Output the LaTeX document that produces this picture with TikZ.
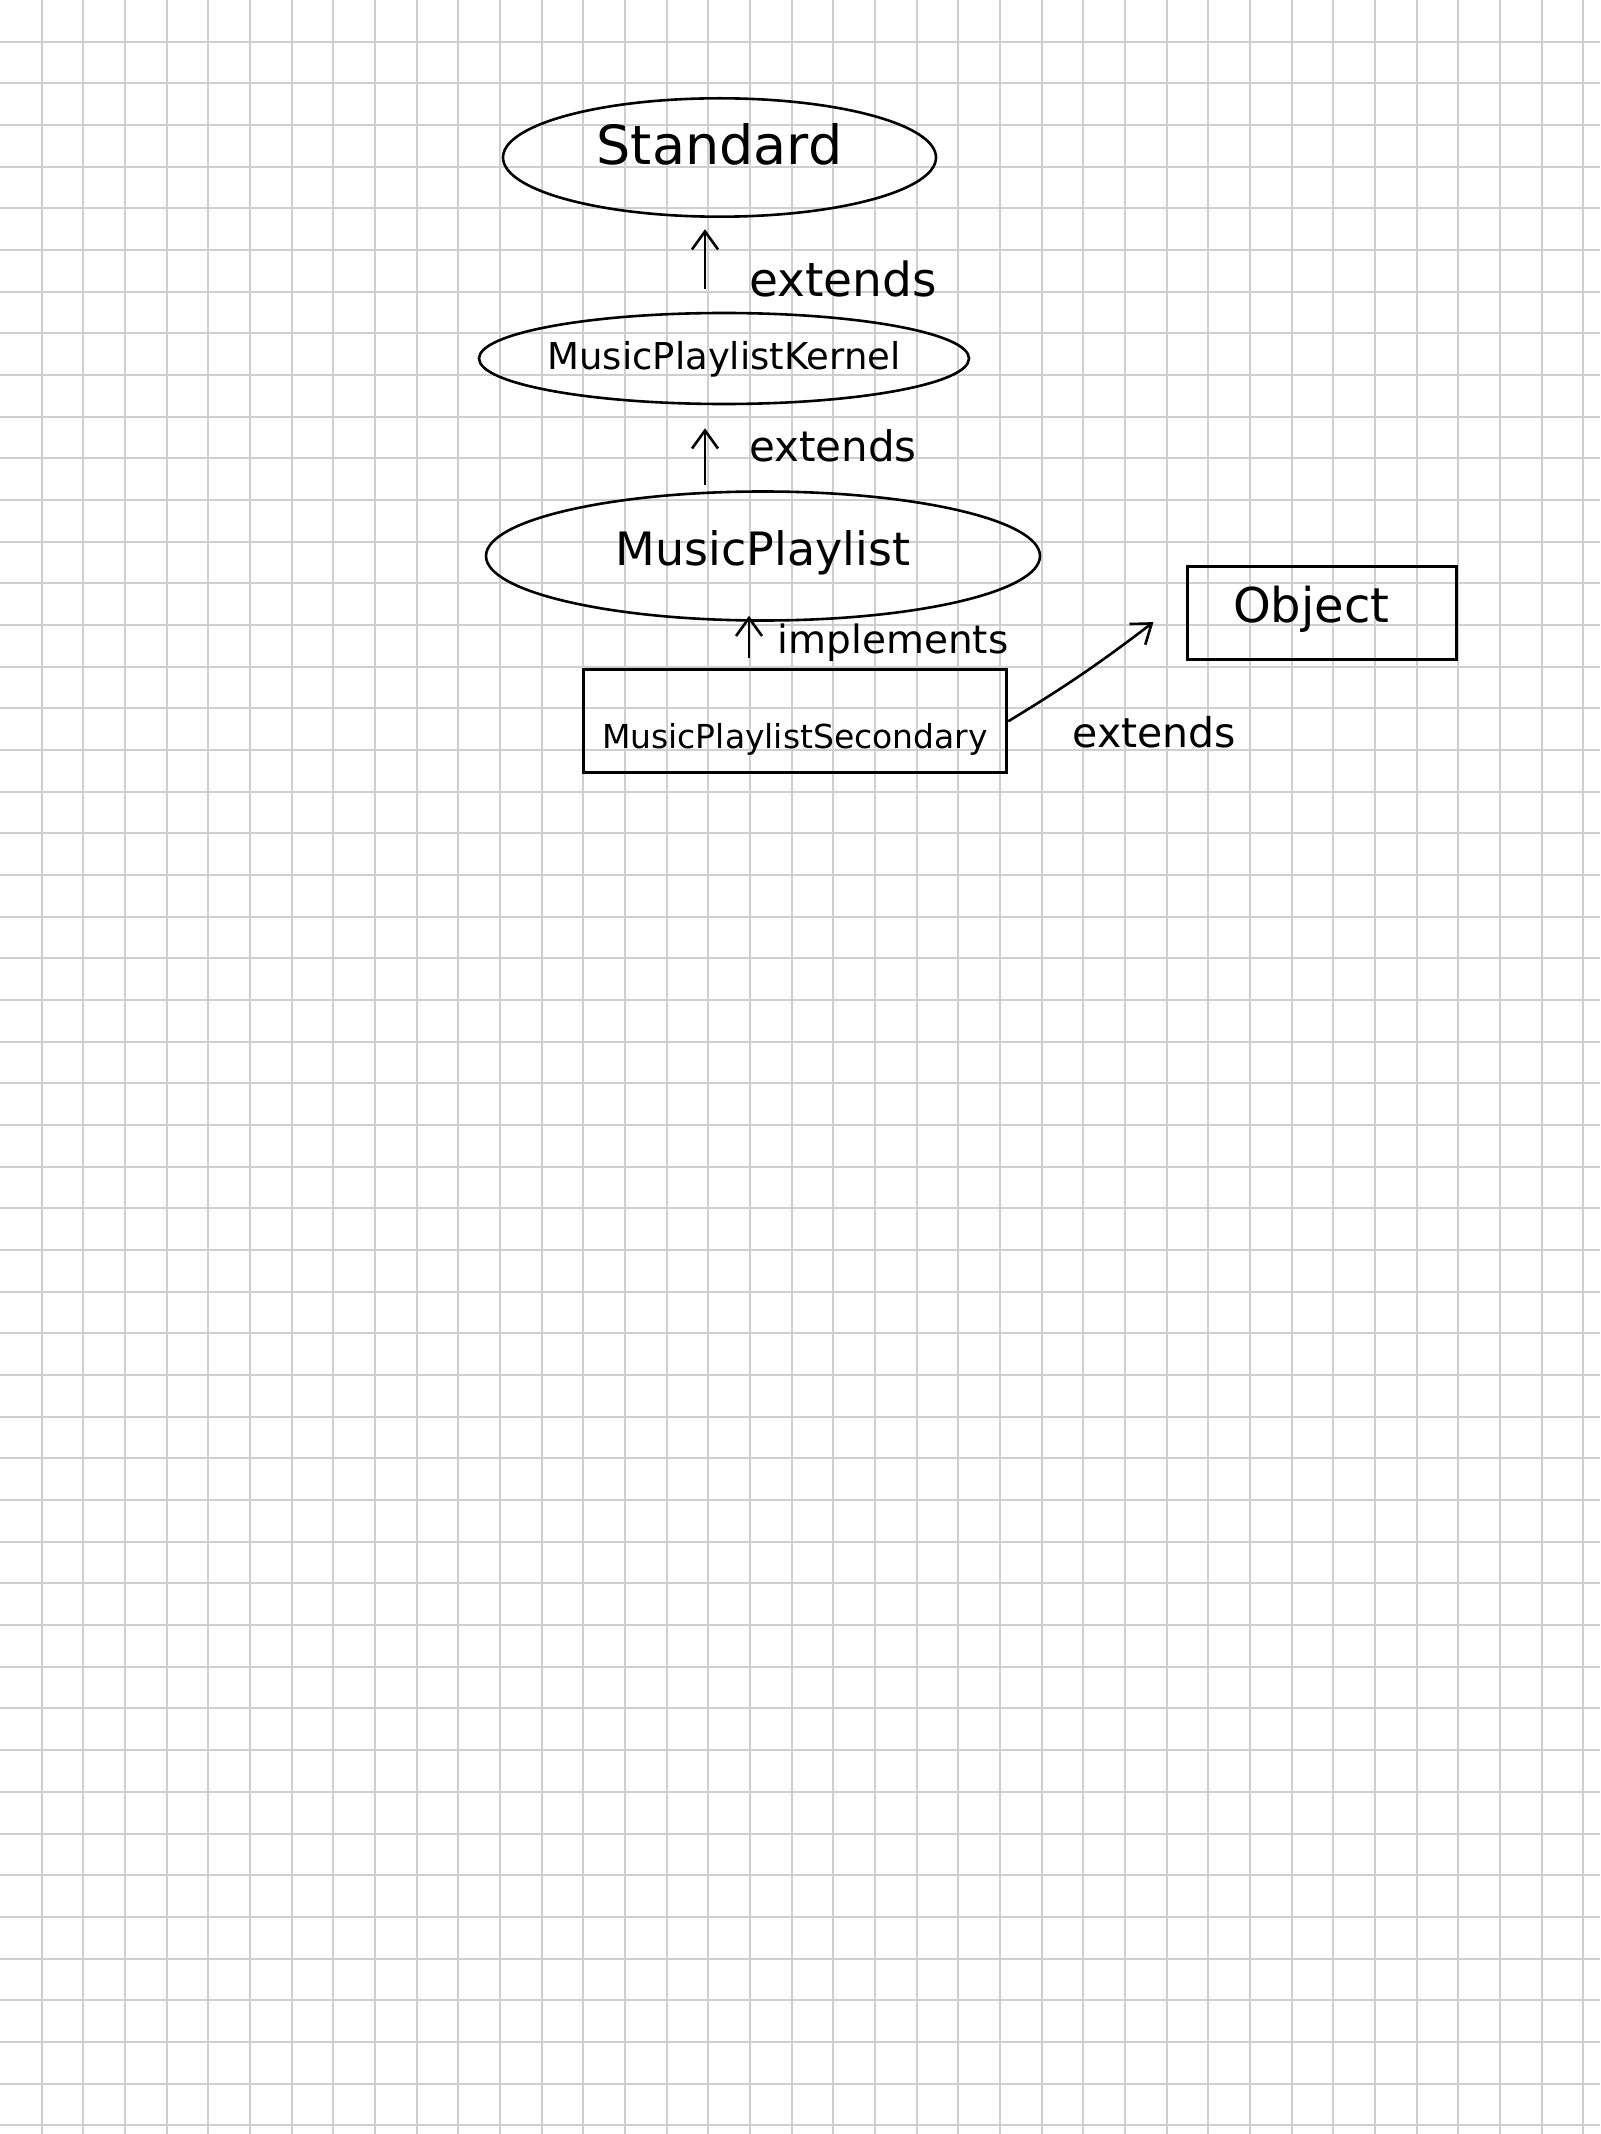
\documentclass[tikz,border=0pt]{standalone}
\usepackage{fontspec}
\setmainfont{DejaVu Sans}
\usetikzlibrary{arrows.meta,shapes.geometric}

\begin{document}
\begin{tikzpicture}[x=0.5pt, y=-0.5pt, >={Straight Barb[length=9pt,width=13pt]}]
  \tikzset{hand/.style={font=\fontsize{#1}{#1}\selectfont}}
  \tikzstyle{gridline} = [line width=1pt, color=black!19];
  \tikzstyle{classEllipse} = [draw, line width=1.3pt, ellipse, inner sep=0pt, inner xsep=-6pt];
  \tikzstyle{classBox} = [draw, line width=1.5pt, rectangle, inner sep=0pt];
  \tikzstyle{relEdge} = [black, line width=1.3pt, ->];
  \tikzstyle{relLabel} = [inner sep=0pt];

  % squared paper
  \useasboundingbox (0,0) rectangle (1600,2134);
  \fill[white] (0,0) rectangle (1600,2134);
  \foreach \i in {1,...,38} \draw[gridline] (\i*41.67,0) -- (\i*41.67,2134);
  \foreach \j in {1,...,51} \draw[gridline] (0,\j*41.67) -- (1600,\j*41.67);

  \node[classEllipse, minimum width=216.5pt, minimum height=59.2pt, hand=27, text height=10pt, text depth=2.5pt]   (std)  at (719.5,157.5)  {Standard};
  \node[classEllipse, minimum width=245pt,   minimum height=45.5pt, hand=18.5, text height=13pt, text depth=1.5pt] (kern) at (724,358.5)    {MusicPlaylistKernel};
  \node[classEllipse, minimum width=277pt,   minimum height=64.5pt, hand=23, text height=11pt, text depth=2pt]     (mpl)  at (763,556)      {MusicPlaylist};
  \node[classBox, minimum width=211.75pt, minimum height=51.35pt, hand=16.5, text height=27pt, text depth=0pt]     (mps)  at (795,721.3)    {MusicPlaylistSecondary};
  \node[classBox, minimum width=134.35pt, minimum height=46.65pt, hand=24, text height=12pt, text depth=2pt]       (obj)  at (1322.3,612.7) {Object\kern11pt};

  \path ([xshift=-9.5pt]kern.north) edge[relEdge, shorten <=11.5pt, shorten >=5.6pt] node[relLabel, hand=23.5, xshift=69pt, yshift=-7pt] {extends} ([xshift=-7.25pt]std.south)
        ([xshift=-29pt]mpl.north) edge[relEdge, shorten <=2.5pt, shorten >=11.5pt] node[relLabel, hand=21, xshift=64pt, yshift=1.2pt] {extends} ([xshift=-9.5pt]kern.south)
        ([xshift=-23pt]mps.north) edge[relEdge, shorten <=5pt, shorten >=-3pt] node[relLabel, hand=19.5, xshift=72pt, yshift=1.2pt] {implements} ([xshift=-7pt]mpl.south)
        (mps.east) edge[relEdge, bend right=3] node[relLabel, hand=20.5, xshift=36pt, yshift=-29pt] {extends} ([xshift=-16.5pt,yshift=-4.7pt]obj.west);
\end{tikzpicture}
\end{document}
